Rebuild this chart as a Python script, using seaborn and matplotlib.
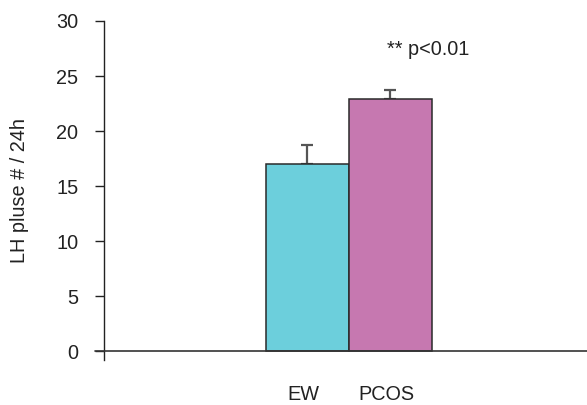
import matplotlib
matplotlib.use("Agg")
import matplotlib.pyplot as plt
import matplotlib.transforms as mtransforms
import seaborn as sns
import pandas as pd
import numpy as np

groups = ["EW", "PCOS"]
values = [17.0, 22.9]
errors = [1.7, 0.8]
colors = ["#6ccfdc", "#c678b0"]
yticks = [0, 5, 10, 15, 20, 25, 30]
annotation = "** p<0.01"
ylabel = "LH pluse # / 24h"

sns.set_theme(style="white")
plt.rcParams["font.family"] = ["Liberation Sans", "DejaVu Sans"]

FS = 14.3
fig = plt.figure(figsize=(5.87, 4.05), dpi=100)
ax = fig.add_axes([104/587, 1-360/405, 1-104/587, (360-21)/405])

df = pd.DataFrame({"group": groups, "value": values})
sns.barplot(data=df, x="group", y="value", hue="group", palette=colors,
            saturation=1, width=1.0, edgecolor="#2a2a2a", linewidth=1.1,
            legend=False, ax=ax, errorbar=None, zorder=2)
xs = np.arange(len(groups))
ax.errorbar(xs, values, yerr=[np.zeros(len(values)), errors], fmt="none",
            ecolor="#555555", elinewidth=1.6, capsize=4.5, capthick=1.6, zorder=1)

ax.set_xlim(-2.45, 3.37)
ax.set_ylim(-0.8, 30)
ax.set_yticks(yticks)
ax.set_yticklabels([str(t) for t in yticks], fontsize=FS, color="#222222")
ax.tick_params(axis="y", direction="out", length=6.5, width=1.0, color="#222222", left=True, pad=12)
ax.tick_params(axis="x", length=0, pad=18, labelsize=FS, labelcolor="#222222")
offset = mtransforms.ScaledTranslation(-4/100, 0, fig.dpi_scale_trans)
for lab in ax.get_xticklabels():
    lab.set_transform(lab.get_transform() + offset)
ax.set_xlabel("")
ax.set_ylabel(ylabel, fontsize=FS, color="#222222")
ax.yaxis.set_label_coords(-0.155, 0.5)

for s in ["top", "right", "bottom"]:
    ax.spines[s].set_visible(False)
ax.spines["left"].set_color("#222222")
ax.spines["left"].set_linewidth(1.0)
ax.plot([-2.56, 3.37], [0, 0], color="#333333", lw=1.2, clip_on=False, zorder=3)

ax.text(1.46, 27.4, annotation, ha="center", va="center", fontsize=FS, color="#222222")

fig.savefig("out.png", dpi=100)
